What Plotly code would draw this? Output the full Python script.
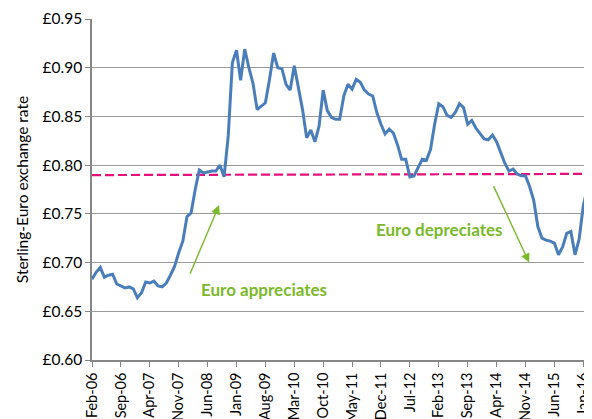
import plotly.graph_objects as go

# Monthly Sterling-Euro exchange rate, Feb-06 .. Feb-16 (index 0 = Feb-06)
rates = [
    0.683, 0.690, 0.695, 0.685, 0.687, 0.688, 0.678, 0.676, 0.674, 0.675,
    0.673, 0.664, 0.669, 0.680, 0.679, 0.681, 0.676, 0.675, 0.679, 0.687,
    0.696, 0.710, 0.722, 0.747, 0.751, 0.775, 0.795, 0.792, 0.793, 0.794,
    0.794, 0.800, 0.788, 0.830, 0.905, 0.918, 0.887, 0.919, 0.900, 0.884,
    0.857, 0.861, 0.864, 0.888, 0.915, 0.900, 0.899, 0.883, 0.877, 0.902,
    0.878, 0.857, 0.828, 0.836, 0.824, 0.840, 0.877, 0.856, 0.849, 0.847,
    0.847, 0.871, 0.883, 0.878, 0.888, 0.885, 0.877, 0.873, 0.871, 0.854,
    0.842, 0.832, 0.837, 0.833, 0.821, 0.806, 0.806, 0.788, 0.789, 0.798,
    0.806, 0.805, 0.816, 0.842, 0.863, 0.860, 0.851, 0.849, 0.854, 0.863,
    0.859, 0.842, 0.846, 0.838, 0.832, 0.827, 0.826, 0.831, 0.824, 0.812,
    0.802, 0.794, 0.796, 0.791, 0.789, 0.789, 0.778, 0.764, 0.737, 0.725,
    0.723, 0.722, 0.720, 0.708, 0.716, 0.730, 0.732, 0.708, 0.724, 0.758,
    0.777,
]
months = list(range(len(rates)))

# Reference (average) level shown as dashed line
ref_x = [0, 120]
ref_y = [0.7898, 0.7910]

tick_positions = [0, 7, 14, 21, 28, 35, 42, 49, 56, 63, 70, 77, 84, 91, 98, 105, 112, 119]
tick_labels = ["Feb-06", "Sep-06", "Apr-07", "Nov-07", "Jun-08", "Jan-09", "Aug-09",
               "Mar-10", "Oct-10", "May-11", "Dec-11", "Jul-12", "Feb-13", "Sep-13",
               "Apr-14", "Nov-14", "Jun-15", "Jan-16"]
y_ticks = [0.60, 0.65, 0.70, 0.75, 0.80, 0.85, 0.90, 0.95]
y_labels = ["£0.60", "£0.65", "£0.70", "£0.75", "£0.80", "£0.85", "£0.90", "£0.95"]

FONT = "Lato, 'Open Sans', sans-serif"
GREEN = "#7AB929"

fig = go.Figure()
fig.add_trace(go.Scatter(x=ref_x, y=ref_y, mode="lines",
                         line=dict(color="#E5107A", width=2.2, dash="9px,4px"),
                         hoverinfo="skip", showlegend=False))
fig.add_trace(go.Scatter(x=months, y=rates, mode="lines",
                         line=dict(color="#4A7EBB", width=3),
                         showlegend=False))

fig.add_annotation(x=30.8, y=0.759, ax=23.6, ay=0.687, axref="x", ayref="y",
                   xref="x", yref="y", showarrow=True, arrowhead=2, arrowsize=1.3,
                   arrowwidth=1.4, arrowcolor=GREEN, text="")
fig.add_annotation(x=105.9, y=0.700, ax=97.1, ay=0.780, axref="x", ayref="y",
                   xref="x", yref="y", showarrow=True, arrowhead=2, arrowsize=1.3,
                   arrowwidth=1.4, arrowcolor=GREEN, text="")
fig.add_annotation(x=41.7, y=0.672, xref="x", yref="y", showarrow=False,
                   text="<b>Euro appreciates</b>",
                   font=dict(family=FONT, size=17, color=GREEN))
fig.add_annotation(x=84.1, y=0.734, xref="x", yref="y", showarrow=False,
                   text="<b>Euro depreciates</b>",
                   font=dict(family=FONT, size=17, color=GREEN))

# The page body adds an 8px offset, so the figure is sized to fit the window.
fig.update_layout(
    width=584, height=411,
    margin=dict(l=84, r=4, t=11, b=59),
    paper_bgcolor="white", plot_bgcolor="white",
    font=dict(family=FONT, size=13, color="#000000"),
    xaxis=dict(range=[0, 120.15], tickmode="array", tickvals=tick_positions,
               ticktext=tick_labels, tickangle=-90, showgrid=False,
               showline=True, linecolor="#868686", linewidth=1.5,
               ticks="outside", ticklen=5, tickcolor="#868686",
               tickfont=dict(size=14.5), zeroline=False, automargin=False),
    yaxis=dict(range=[0.60, 0.95], tickmode="array", tickvals=y_ticks,
               ticktext=y_labels, showgrid=True, gridcolor="#9A9A9A",
               gridwidth=1.3, showline=True, linecolor="#868686", linewidth=1.5,
               ticks="outside", ticklen=5, tickcolor="#868686",
               tickfont=dict(size=15.5), zeroline=False, automargin=False,
               title=dict(text="Sterling-Euro exchange rate", font=dict(size=15.5),
                          standoff=10)),
)

fig.write_html("out.html")
